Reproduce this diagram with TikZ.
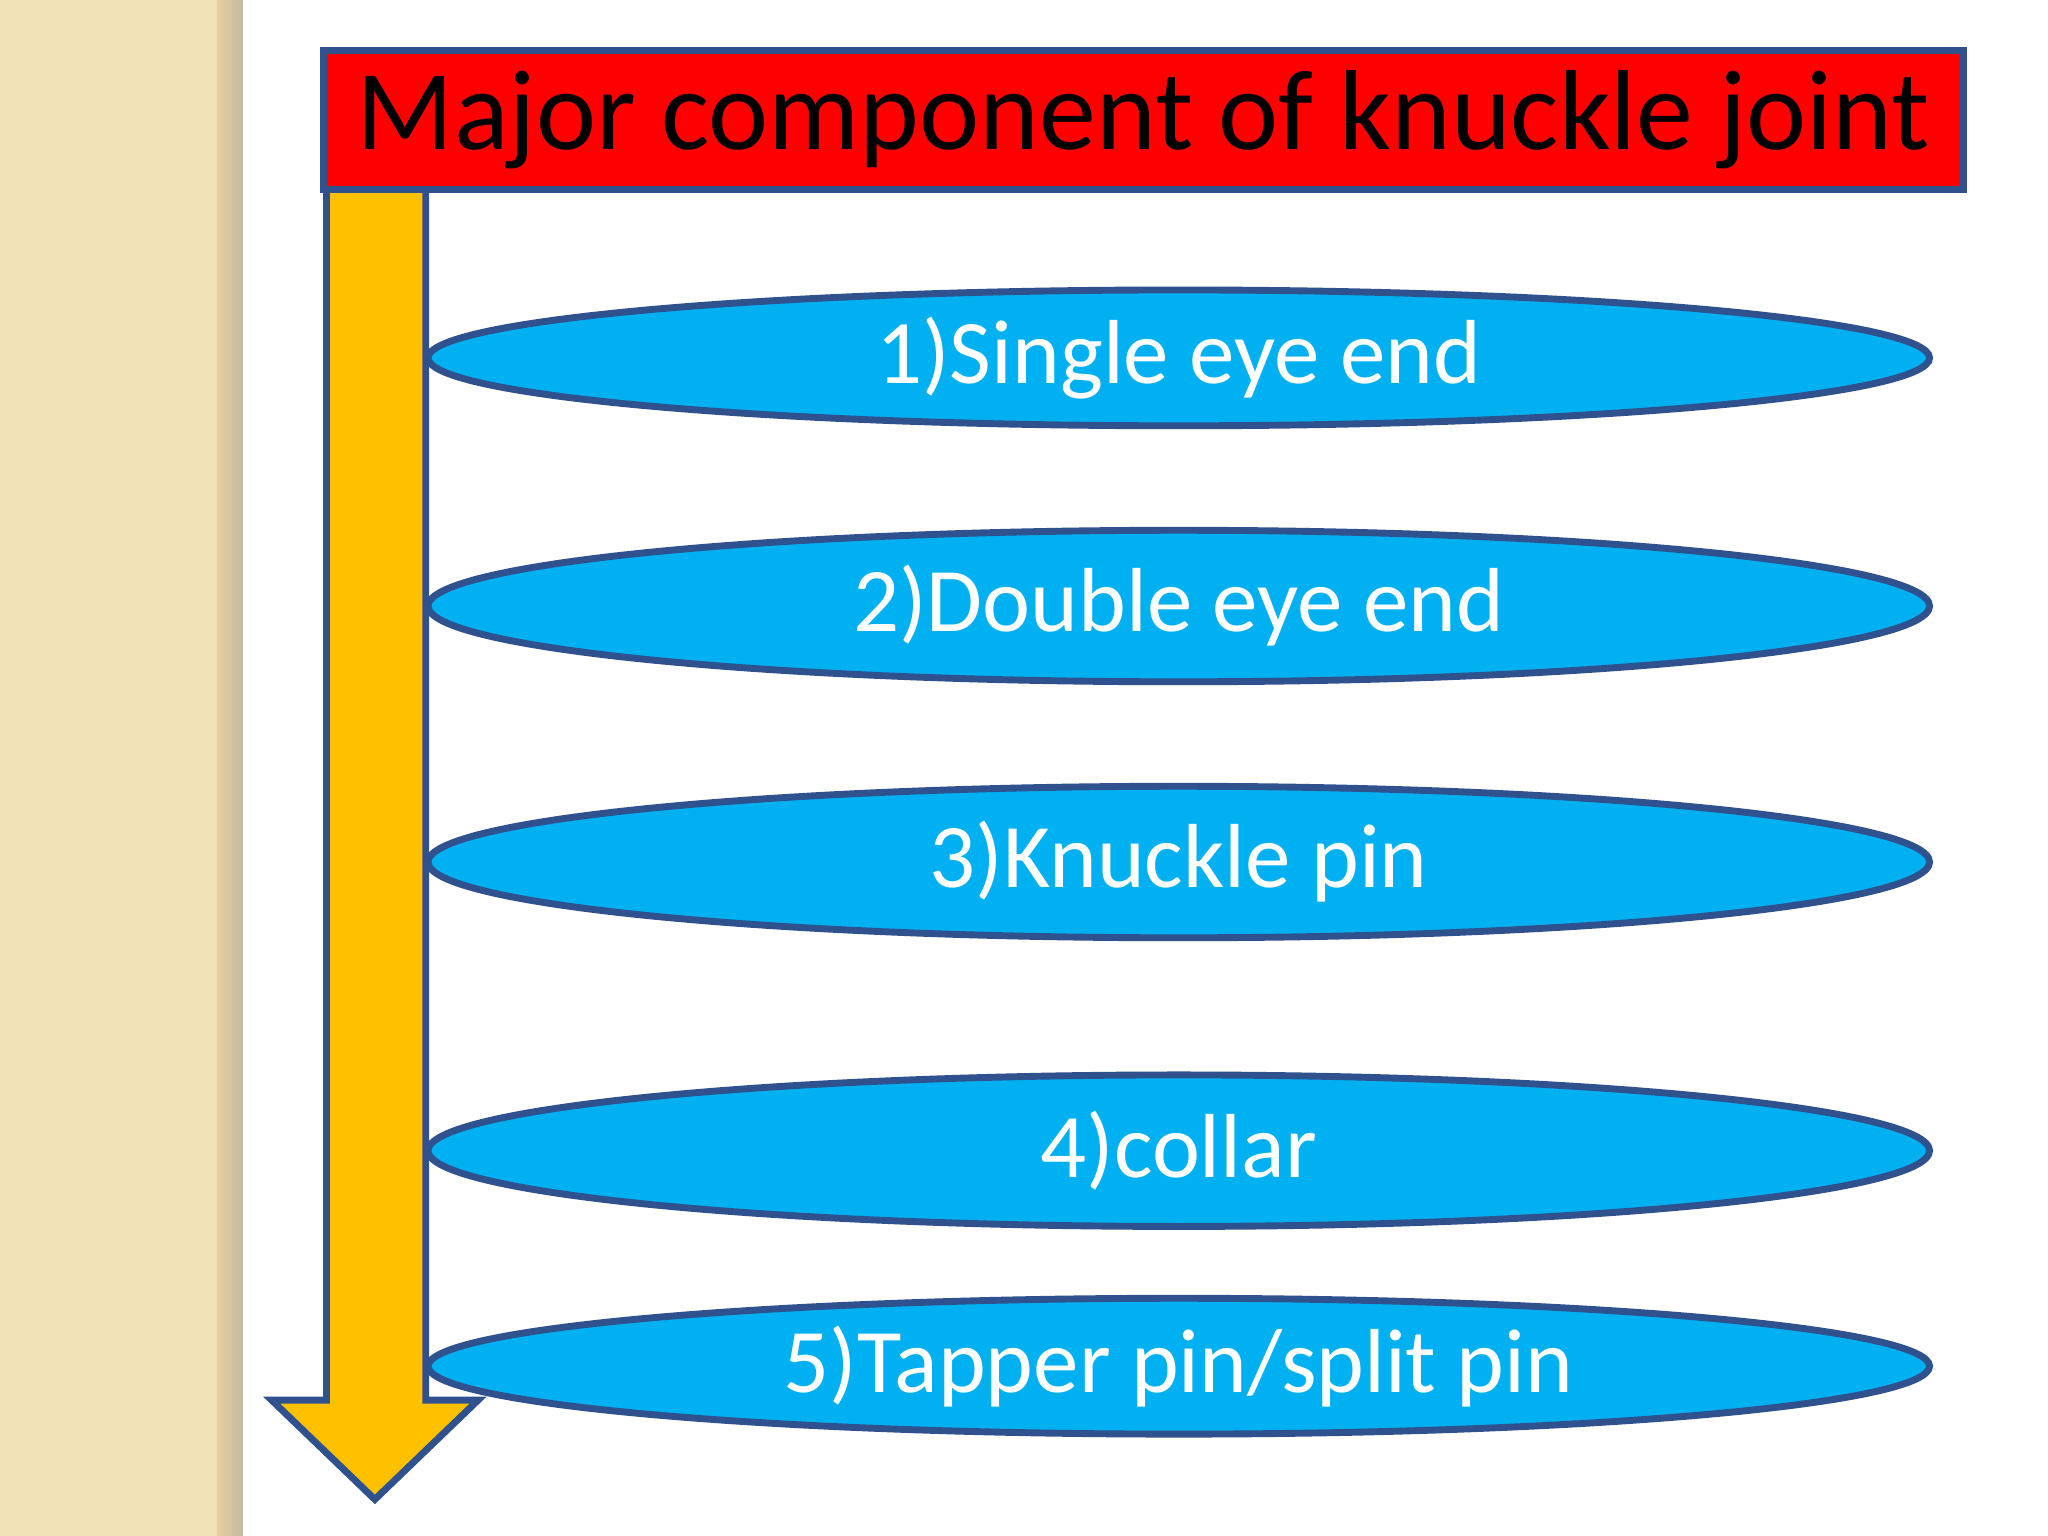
\documentclass[tikz,border=0pt]{standalone}
\usepackage{fontspec}
\setmainfont{Carlito}
\usetikzlibrary{shapes.geometric}
\definecolor{beige}{HTML}{F2E2B8}
\definecolor{edge}{HTML}{2F528F}
\definecolor{cyanf}{HTML}{00B0F0}
\definecolor{gold}{HTML}{FFC000}
\begin{document}
\begin{tikzpicture}[x=0.01cm,y=-0.01cm,
  item/.style={ellipse,draw=edge,line width=1.5pt,fill=cyanf,text=white,font=\fontsize{19.8}{22}\selectfont,inner sep=0pt,minimum width=11.49cm}]
\useasboundingbox (0,0) rectangle (1568,1176);
\fill[white] (0,0) rectangle (1568,1176);
\fill[beige] (0,0) rectangle (168,1176);
\shade[left color=beige!80!brown,right color=beige!60!gray] (166,0) rectangle (186,1176);
\foreach \y/\h/\t [count=\i] in {274/104/{1)Single eye end},464/116/{2)Double eye end},660/116/{3)Knuckle pin},881/116/{4)collar},1046/104/{5)Tapper pin/split pin}}
  \node[item,minimum height=\h*0.01cm] (e\i) at (902.5,\y) {\t};
\draw[draw=edge,line width=1.5pt,fill=gold] (250,145) -- (326,145) -- (326,1072) -- (366,1072) -- (287,1148) -- (208,1072) -- (250,1072) -- cycle;
\node[draw=edge,line width=1.5pt,fill=red,minimum width=12.55cm,minimum height=1.06cm,inner sep=0pt,font=\fontsize{24.8}{28}\selectfont] (title) at (875.5,92) {Major component of knuckle joint};
\end{tikzpicture}
\end{document}
